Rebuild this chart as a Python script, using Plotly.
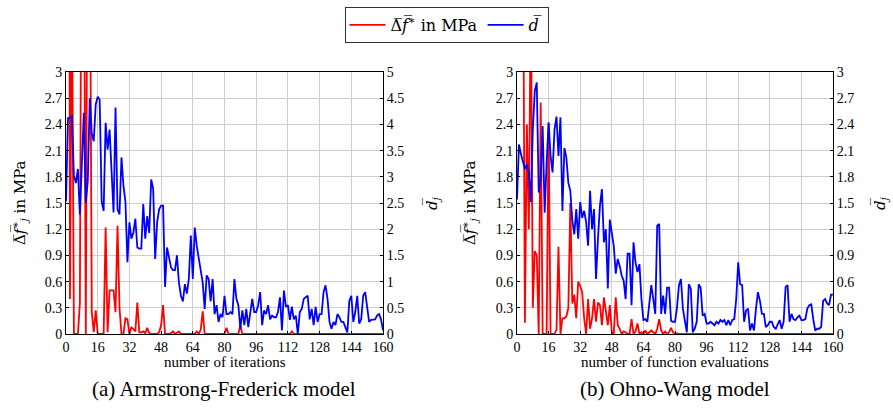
import plotly.graph_objects as go

# ---------------- data ----------------
iterations = list(range(161))

# (a) Armstrong-Frederick: mean Delta f* in MPa (left axis, 0..3)
af_df = [30, 15, 0.4, 4.0, 0.0, 0.0, 0.0, 0.35, 6, 5,
         0.0, 6, 5, 0.25, 0.02, 0.27, 0.0, 0.0, 0.0, 0.0,
         1.22, 0.02, 0.5, 0.5, 0.5, 0.25, 1.24, 0.3, 0.0, 0.0,
         0.18, 0.17, 0.0, 0.08, 0.06, 0.03, 0.36, 0.02, 0.02, 0.03,
         0.01, 0.07, 0.01, 0.0, 0.0, 0.0, 0.0, 0.02, 0.1, 0.33,
         0.0, 0.0, 0.0, 0.01, 0.03, 0.0, 0.02, 0.03, 0.0, 0.0,
         0.0, 0.0, 0.0, 0.0, 0.0, 0.0, 0.03, 0.0, 0.05, 0.26,
         0.0, 0.0, 0.0, 0.0, 0.0, 0.0, 0.0, 0.0, 0.0, 0.0,
         0.0, 0.07, 0.0, 0.0, 0.0, 0.0, 0.0, 0.0, 0.1, 0.0,
         0.0, 0.0, 0.0, 0.0, 0.0, 0.0, 0.0, 0.0, 0.0, 0.0,
         0.0, 0.0, 0.0, 0.0, 0.0, 0.0, 0.0, 0.0, 0.0, 0.0,
         0.0, 0.0, 0.0, 0.0, 0.03, 0.0, 0.0, 0.0, 0.0, 0.0,
         0.0, 0.0, 0.0, 0.0, 0.0, 0.0, 0.0, 0.0, 0.0, 0.0,
         0.0, 0.0, 0.0, 0.0, 0.0, 0.0, 0.0, 0.0, 0.0, 0.0,
         0.0, 0.0, 0.0, 0.0, 0.0, 0.0, 0.0, 0.0, 0.0, 0.0,
         0.0, 0.0, 0.0, 0.0, 0.0, 0.0, 0.0, 0.0, 0.0, 0.0,
         0.0]

# (a) Armstrong-Frederick: mean d (right axis, 0..5)
af_d = [2.53, 4.12, 4.13, 4.15, 3.02, 2.88, 3.15, 2.28, 3.25, 4.22,
        2.50, 2.92, 4.50, 3.83, 3.68, 4.38, 4.53, 4.47, 2.53, 2.35,
        4.03, 3.52, 3.90, 3.02, 2.32, 4.32, 2.38, 2.28, 3.37, 2.83,
        2.52, 1.37, 2.13, 1.82, 1.93, 2.20, 1.65, 1.63, 1.63, 2.48,
        1.82, 2.25, 1.93, 2.95, 2.77, 1.43, 2.13, 2.38, 2.45, 2.45,
        0.90, 1.65, 1.43, 1.27, 1.22, 1.22, 1.50, 0.98, 0.73, 0.62,
        0.95, 0.77, 1.05, 1.88, 1.05, 2.03, 1.68, 1.43, 1.18, 0.98,
        0.48, 1.12, 1.05, 0.62, 1.05, 0.38, 0.55, 0.23, 0.38, 0.32,
        0.73, 0.38, 0.38, 0.42, 0.38, 1.05, 0.67, 0.55, 0.10, 0.45,
        0.17, 0.48, 0.13, 0.38, 0.67, 0.42, 0.42, 0.55, 0.80, 0.17,
        0.45, 0.38, 0.55, 0.28, 0.35, 0.32, 0.32, 0.42, 0.70, 0.07,
        0.83, 0.52, 0.55, 0.27, 0.52, 0.28, 0.35, 0.00, 0.42, 0.48,
        0.67, 0.70, 0.73, 0.28, 0.48, 0.17, 0.52, 0.23, 0.38, 0.38,
        0.80, 0.93, 0.67, 0.23, 0.10, 0.23, 0.17, 0.38, 0.32, 0.23,
        0.23, 0.13, 0.03, 0.63, 0.73, 0.23, 0.42, 0.73, 0.20, 0.28,
        0.73, 0.80, 0.55, 0.23, 0.27, 0.28, 0.28, 0.35, 0.38, 0.28,
        0.07]

# (b) Ohno-Wang: mean Delta f* in MPa (left axis, 0..3)
ow_df = [9, 7, 6, 5, 0.13, 2.4, 1.2, 4, 0.3, 0.95,
         0.9, 0.0, 2.65, 0.0, 0.0, 0.0, 2.42, 0.0, 0.0, 0.0,
         0.05, 1.0, 0.0, 0.18, 0.18, 0.2, 0.3, 1.5, 0.35, 0.45,
         0.18, 0.6, 0.55, 0.48, 0.18, 0.0, 0.4, 0.06, 0.18, 0.4,
         0.14, 0.36, 0.33, 0.1, 0.42, 0.25, 0.1, 0.33, 0.02, 0.0,
         0.42, 0.1, 0.06, 0.0, 0.03, 0.02, 0.0, 0.0, 0.17, 0.0,
         0.03, 0.12, 0.0, 0.02, 0.0, 0.04, 0.0, 0.02, 0.04, 0.02,
         0.0, 0.06, 0.17, 0.04, 0.0, 0.03, 0.0, 0.02, 0.07, 0.02,
         0.0, 0.01, 0.0, 0.0, 0.0, 0.0, 0.0, 0.0, 0.0, 0.0,
         0.0, 0.0, 0.0, 0.0, 0.0, 0.0, 0.0, 0.0, 0.0, 0.0,
         0.0, 0.0, 0.0, 0.0, 0.0, 0.0, 0.0, 0.0, 0.0, 0.0,
         0.0, 0.0, 0.0, 0.0, 0.0, 0.0, 0.0, 0.0, 0.0, 0.0,
         0.0, 0.0, 0.0, 0.0, 0.0, 0.0, 0.0, 0.0, 0.0, 0.0,
         0.0, 0.0, 0.0, 0.0, 0.0, 0.0, 0.0, 0.0, 0.0, 0.0,
         0.0, 0.0, 0.0, 0.0, 0.0, 0.0, 0.0, 0.0, 0.0, 0.0,
         0.0, 0.0, 0.0, 0.0, 0.0, 0.0, 0.0, 0.0, 0.0, 0.0,
         0.0]

# (b) Ohno-Wang: mean d (right axis, 0..3)
ow_d = [1.54, 2.17, 2.06, 1.98, 1.89, 1.94, 1.85, 1.51, 2.34, 2.78,
        2.88, 1.62, 1.77, 2.38, 1.39, 1.96, 2.42, 2.04, 1.85, 2.34,
        2.49, 2.04, 2.48, 1.41, 2.13, 2.02, 1.73, 1.64, 1.30, 1.14,
        1.43, 1.09, 1.51, 1.33, 1.41, 1.28, 1.01, 1.64, 1.20, 1.43,
        0.63, 1.09, 1.47, 1.66, 1.05, 1.20, 0.52, 1.31, 1.16, 1.01,
        0.69, 0.86, 0.78, 0.67, 0.61, 0.40, 0.92, 0.92, 0.33, 1.05,
        0.82, 0.71, 0.80, 0.40, 0.16, 0.17, 0.14, 0.37, 0.56, 0.40,
        0.23, 1.24, 1.26, 0.23, 0.44, 0.23, 0.53, 0.53, 0.15, 0.14,
        0.14, 0.30, 0.56, 0.63, 0.29, 0.15, 0.02, 0.57, 0.52, 0.02,
        0.06, 0.14, 0.57, 0.53, 0.21, 0.23, 0.12, 0.12, 0.14, 0.12,
        0.10, 0.14, 0.12, 0.16, 0.14, 0.16, 0.10, 0.16, 0.10, 0.16,
        0.17, 0.40, 0.82, 0.57, 0.56, 0.14, 0.27, 0.29, 0.04, 0.12,
        0.04, 0.29, 0.48, 0.38, 0.23, 0.23, 0.08, 0.10, 0.14, 0.14,
        0.08, 0.06, 0.12, 0.16, 0.06, 0.14, 0.54, 0.56, 0.14, 0.23,
        0.17, 0.16, 0.19, 0.21, 0.16, 0.16, 0.17, 0.29, 0.33, 0.34,
        0.17, 0.04, 0.06, 0.06, 0.08, 0.38, 0.40, 0.35, 0.33, 0.45,
        0.45]

x_ticks = [0, 16, 32, 48, 64, 80, 96, 112, 128, 144, 160]
y_ticks_03 = [0, 0.3, 0.6, 0.9, 1.2, 1.5, 1.8, 2.1, 2.4, 2.7, 3]
y_text_03 = ["0", "0.3", "0.6", "0.9", "1.2", "1.5", "1.8", "2.1", "2.4", "2.7", "3"]
y_ticks_05 = [0, 0.5, 1, 1.5, 2, 2.5, 3, 3.5, 4, 4.5, 5]
y_text_05 = ["0", "0.5", "1", "1.5", "2", "2.5", "3", "3.5", "4", "4.5", "5"]

legend_df = "\u0394\u0305<i>f\u0305</i><sup>\u2217</sup> in MPa"
legend_d = "<i>d\u0305</i>"
ytitle_left = "\u0394\u0305<i>f\u0305</i><sup>\u2217</sup><sub><i>j</i></sub> in MPa"
ytitle_right = "<i>d\u0305</i><sub><i>j</i></sub>"
captions = ["(a) Armstrong-Frederick model", "(b) Ohno-Wang model"]
xtitles = ["number of iterations", "number of function evaluations"]

# ---------------- figure ----------------
W, H = 893, 409
FONT = "Liberation Serif"
MATHFONT = "DejaVu Serif"
RED = "#ff0000"
BLUE = "#0000ff"
GRID = "#cdcdcd"


def px_x(p):
    return p / W


def px_y(p):
    return 1 - p / H


ydom = [px_y(334), px_y(72)]
xdom1 = [px_x(66), px_x(383)]
xdom2 = [px_x(517), px_x(833)]

fig = go.Figure()
fig.add_trace(go.Scatter(x=iterations, y=af_df, mode="lines", name=legend_df,
                         line=dict(color=RED, width=1.8), xaxis="x", yaxis="y",
                         legendgroup="df"))
fig.add_trace(go.Scatter(x=iterations, y=af_d, mode="lines", name=legend_d,
                         line=dict(color=BLUE, width=1.8), xaxis="x", yaxis="y2",
                         legendgroup="d"))
fig.add_trace(go.Scatter(x=iterations, y=ow_df, mode="lines", name=legend_df,
                         line=dict(color=RED, width=1.8), xaxis="x2", yaxis="y3",
                         legendgroup="df", showlegend=False))
fig.add_trace(go.Scatter(x=iterations, y=ow_d, mode="lines", name=legend_d,
                         line=dict(color=BLUE, width=1.8), xaxis="x2", yaxis="y4",
                         legendgroup="d", showlegend=False))

tickfont = dict(family=FONT, size=14, color="black")
common_x = dict(range=[0, 160], tickvals=x_ticks, showgrid=True, gridcolor=GRID,
                gridwidth=1, showline=True, linecolor="black", linewidth=1,
                mirror=True, ticks="inside", ticklen=3, tickcolor="black",
                zeroline=False, tickfont=tickfont, automargin=False)
common_y = dict(showgrid=True, gridcolor=GRID, gridwidth=1, showline=True,
                linecolor="black", linewidth=1, ticks="inside", ticklen=3,
                tickcolor="black", zeroline=False, tickfont=tickfont, domain=ydom,
                automargin=False)

fig.update_layout(
    width=W, height=H, margin=dict(l=0, r=0, t=0, b=0, autoexpand=False),
    paper_bgcolor="white", plot_bgcolor="white",
    font=dict(family=FONT, color="black"),
    xaxis=dict(domain=xdom1, anchor="y", **common_x),
    xaxis2=dict(domain=xdom2, anchor="y3", **common_x),
    yaxis=dict(anchor="x", range=[0, 3], tickvals=y_ticks_03, ticktext=y_text_03,
               side="left", **common_y),
    yaxis2=dict(anchor="x", overlaying="y", range=[0, 5], tickvals=y_ticks_05,
                ticktext=y_text_05, side="right",
                **{**common_y, "showgrid": False}),
    yaxis3=dict(anchor="x2", range=[0, 3], tickvals=y_ticks_03, ticktext=y_text_03,
                side="left", **common_y),
    yaxis4=dict(anchor="x2", overlaying="y3", range=[0, 3], tickvals=y_ticks_03,
                ticktext=y_text_03, side="right",
                **{**common_y, "showgrid": False}),
    showlegend=True,
    legend=dict(orientation="h", x=0.5, xanchor="center", y=px_y(7), yanchor="top",
                bordercolor="#333333", borderwidth=1, bgcolor="white",
                font=dict(family=MATHFONT, size=16, color="black"),
                itemwidth=36, tracegroupgap=0),
)

ann = []
# y-axis titles
for xc in (19, 469):
    ann.append(dict(text=ytitle_left, x=px_x(xc), y=px_y(203), xref="paper",
                    yref="paper", xanchor="center", yanchor="middle",
                    textangle=-90, showarrow=False,
                    font=dict(family=MATHFONT, size=15, color="black")))
for xc in (432, 880):
    ann.append(dict(text=ytitle_right, x=px_x(xc), y=px_y(203), xref="paper",
                    yref="paper", xanchor="center", yanchor="middle",
                    textangle=-90, showarrow=False,
                    font=dict(family=MATHFONT, size=15, color="black")))
# x-axis titles
for xc, t in zip((225, 675), xtitles):
    ann.append(dict(text=t, x=px_x(xc), y=px_y(362), xref="paper", yref="paper",
                    xanchor="center", yanchor="middle",
                    showarrow=False, font=dict(family=FONT, size=15, color="black")))
# captions
for xc, t in zip((224, 675), captions):
    ann.append(dict(text=t, x=px_x(xc), y=px_y(389), xref="paper", yref="paper",
                    xanchor="center", yanchor="middle",
                    showarrow=False, font=dict(family=FONT, size=21, color="black")))
fig.update_layout(annotations=ann)

fig.write_html("out.html")
